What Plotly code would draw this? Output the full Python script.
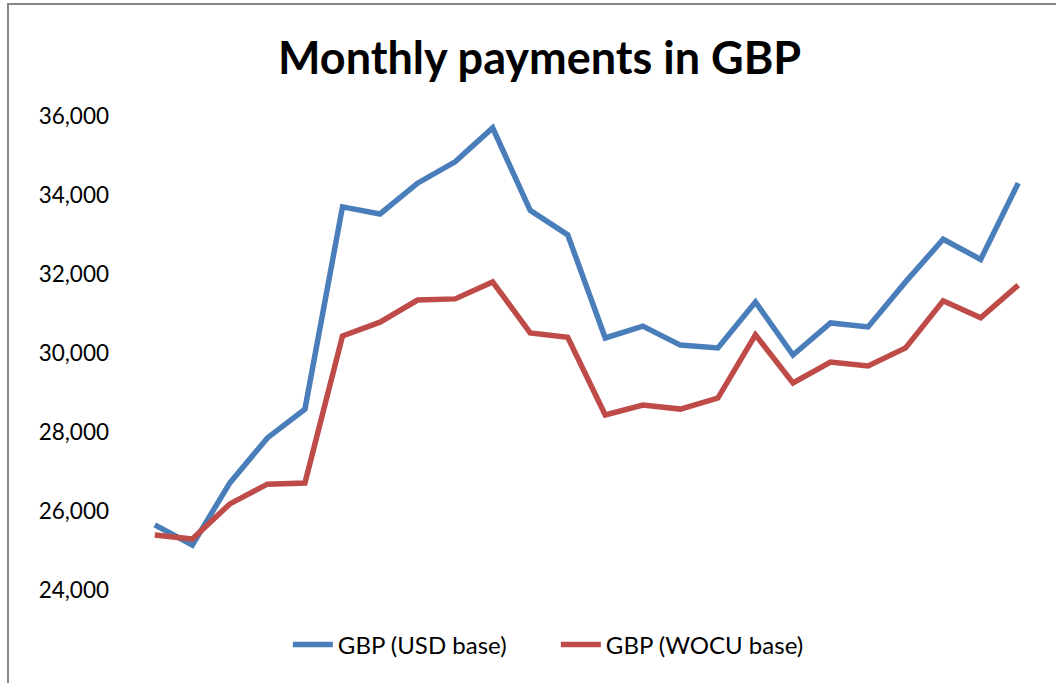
import plotly.graph_objects as go

months = list(range(1, 25))
usd_base = [25650, 25140, 26710, 27850, 28580, 33700, 33520, 34300, 34840, 35700,
            33610, 32990, 30380, 30680, 30200, 30130, 31290, 29950, 30760, 30660,
            31800, 32880, 32370, 34300]
wocu_base = [25390, 25290, 26180, 26680, 26710, 30430, 30780, 31340, 31370, 31800,
             30510, 30400, 28430, 28680, 28580, 28860, 30460, 29240, 29770, 29670,
             30130, 31320, 30890, 31720]
y_ticks = [24000, 26000, 28000, 30000, 32000, 34000, 36000]

FONT = "Lato"

fig = go.Figure()
fig.add_trace(go.Scatter(x=months, y=usd_base, mode="lines", name="GBP (USD base)",
                         line=dict(color="#4A7EBB", width=5.5)))
fig.add_trace(go.Scatter(x=months, y=wocu_base, mode="lines", name="GBP (WOCU base)",
                         line=dict(color="#BE4B48", width=5.5)))

fig.update_layout(
    width=1056, height=683,
    paper_bgcolor="white", plot_bgcolor="white",
    margin=dict(l=136, r=19, t=116, b=93),
    font=dict(family=FONT, size=22.5, color="black"),
    title=dict(text="<b>Monthly payments in GBP</b>", x=0.511, xanchor="center",
               y=1 - 58 / 683, yanchor="middle",
               font=dict(family=FONT, size=45, color="black")),
    showlegend=True,
    legend=dict(orientation="h", x=0.466, xanchor="center", y=-0.116, yanchor="middle",
                font=dict(family=FONT, size=24), itemwidth=40,
                entrywidth=213, entrywidthmode="pixels"),
    xaxis=dict(range=[0.5, 24.5], showticklabels=False, showgrid=False, zeroline=False,
               showline=False, ticks=""),
    yaxis=dict(range=[24000, 36000], tickvals=y_ticks, tickformat=",d",
               showgrid=False, zeroline=False, showline=False, ticks="",
               ticklabelstandoff=26),
)

fig.add_shape(type="rect", xref="paper", yref="paper",
              x0=(8 - 136) / 901, x1=(1062 - 136) / 901,
              y0=(590 - 700) / 474, y1=(590 - 4) / 474,
              line=dict(color="#868686", width=2), fillcolor="rgba(0,0,0,0)", layer="below")

fig.write_html("out.html", config={"displayModeBar": False},
               post_script="document.body.style.margin='0';")
